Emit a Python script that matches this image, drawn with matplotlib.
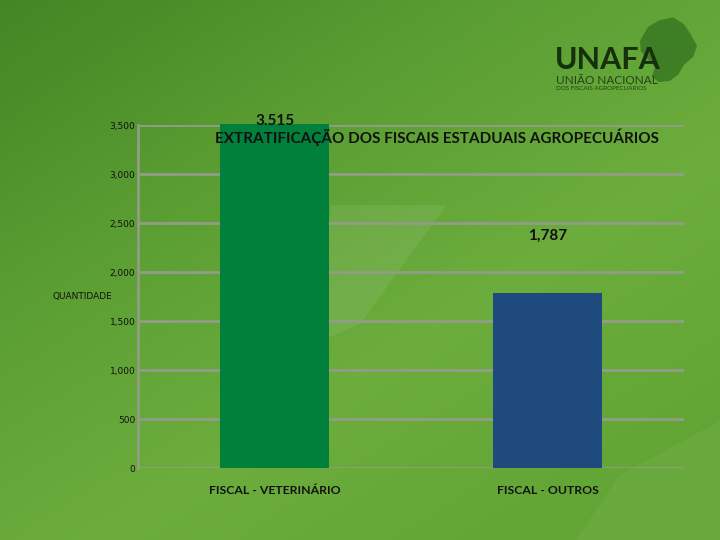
import numpy as np
import matplotlib
matplotlib.use("Agg")
import matplotlib.pyplot as plt
from matplotlib.patches import Polygon
from matplotlib.colors import LinearSegmentedColormap

# ---- data ----
categories = ["FISCAL - VETERINÁRIO", "FISCAL - OUTROS"]
values = [3515, 1787]
value_labels = ["3.515", "1,787"]
bar_colors = ["#00803a", "#1f4a7e"]
yticks = [0, 500, 1000, 1500, 2000, 2500, 3000, 3500]
ytick_labels = ["0", "500", "1,000", "1,500", "2,000", "2,500", "3,000", "3,500"]
title = "EXTRATIFICAÇÃO DOS FISCAIS ESTADUAIS AGROPECUÁRIOS"

fig = plt.figure(figsize=(7.2, 5.4), dpi=100)

# ---- background gradient ----
bg = fig.add_axes([0, 0, 1, 1], zorder=0)
bg.set_axis_off()
xx, yy = np.meshgrid(np.linspace(0, 1, 200), np.linspace(0, 1, 150))
t = np.clip(0.5 * xx + 0.6 * yy, 0, 1)  # row 0 = top (origin upper)
cmap = LinearSegmentedColormap.from_list("g", ["#438624", "#5a9d32", "#6cad3d", "#62a535"])
bg.imshow(t, cmap=cmap, extent=[0, 1, 0, 1], aspect="auto", origin="upper")
bg.set_xlim(0, 1)
bg.set_ylim(0, 1)
# subtle light streaks
bg.add_patch(Polygon([(0.43, 0.36), (0.50, 0.40), (0.62, 0.62), (0.46, 0.62)], closed=True,
                     facecolor="white", alpha=0.08, edgecolor="none"))
bg.add_patch(Polygon([(0.80, 0.0), (1.0, 0.0), (1.0, 0.22), (0.86, 0.12)], closed=True,
                     facecolor="white", alpha=0.04, edgecolor="none"))

# ---- logo ----
fig.text(0.771, 0.888, "UNAFA", fontsize=22, fontweight="bold", family="Lato",
         color="#15300d", ha="left", va="center")
fig.text(0.772, 0.851, "UNIÃO NACIONAL", fontsize=8.5, family="Lato",
         color="#1e4414", ha="left", va="center")
fig.text(0.772, 0.837, "DOS FISCAIS AGROPECUÁRIOS", fontsize=4.5, family="Lato",
         color="#1e4414", ha="left", va="center")
brazil = [(0.900, 0.950), (0.915, 0.962), (0.935, 0.968), (0.950, 0.955), (0.960, 0.935),
          (0.968, 0.915), (0.963, 0.895), (0.950, 0.880), (0.942, 0.862), (0.930, 0.850),
          (0.915, 0.848), (0.905, 0.858), (0.910, 0.875), (0.900, 0.890), (0.890, 0.905),
          (0.889, 0.925)]
bg.add_patch(Polygon(brazil, closed=True, facecolor="#2f6e1c", alpha=0.7, edgecolor="none"))

# ---- chart ----
ax = fig.add_axes([0.1917, 0.1333, 0.7583, 0.6352], zorder=2)
ax.patch.set_alpha(0)
x = np.arange(len(categories))
ax.bar(x, values, width=0.4, color=bar_colors, zorder=3, clip_on=False)
ax.set_xlim(-0.5, 1.5)
ax.set_ylim(0, 3500)
ax.set_yticks(yticks)
ax.set_yticklabels(ytick_labels, fontsize=6.5, family="DejaVu Sans", color="#111111")
ax.set_xticks(x)
ax.set_xticklabels(categories, fontsize=8.8, family="Lato", fontweight="bold", color="#111111")
ax.tick_params(axis="both", length=0)
ax.tick_params(axis="y", pad=2)
ax.tick_params(axis="x", pad=12)
ax.grid(axis="y", color="#929c88", linewidth=2, zorder=1)
for s in ["top", "right", "bottom"]:
    ax.spines[s].set_visible(False)
ax.spines["left"].set_color("#929c88")
ax.spines["left"].set_linewidth(2)

ax.text(x[0], 3545, value_labels[0], ha="center", va="center", fontsize=11,
        fontweight="bold", family="Lato", color="#111111", zorder=5)
ax.text(x[1], 2370, value_labels[1], ha="center", va="center", fontsize=11,
        fontweight="bold", family="Lato", color="#111111", zorder=5)

fig.text(0.607, 0.746, title, ha="center", va="center", fontsize=11,
         fontweight="bold", family="Lato", color="#111111", zorder=6)
fig.text(0.073, 0.45, "QUANTIDADE", ha="left", va="center", fontsize=6.5,
         family="DejaVu Sans", color="#111111")

fig.savefig("out.png", dpi=100)
